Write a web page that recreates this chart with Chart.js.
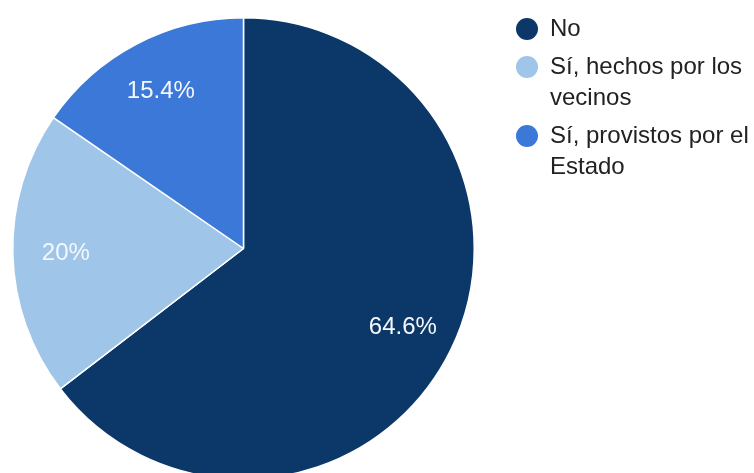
<!DOCTYPE html>
<html>
<head>
<meta charset="utf-8">
<script src="https://cdn.jsdelivr.net/npm/chart.js@4.4.1/dist/chart.umd.min.js"></script>
<style>
  html, body { margin: 0; padding: 0; background: #ffffff; overflow: hidden; }
  #wrap { position: relative; width: 754px; height: 473px; overflow: hidden; }
  #box { position: absolute; left: 0; top: 0; width: 754px; height: 496px; }
</style>
</head>
<body>
<div id="wrap"><div id="box"><canvas id="c"></canvas></div></div>
<script>
const categories = ["No", "Sí, hechos por los vecinos", "Sí, provistos por el Estado"];
const values = [64.6, 20, 15.4];
const valueLabels = ["64.6%", "20%", "15.4%"];
const colors = ["#0b3868", "#9fc5e8", "#3c78d8"];

const FONT = "Arial, 'Liberation Sans', Helvetica, sans-serif";

const sliceLabels = {
  id: 'sliceLabels',
  afterDatasetsDraw(chart) {
    const ctx = chart.ctx;
    const meta = chart.getDatasetMeta(0);
    ctx.save();
    ctx.font = "24px " + FONT;
    ctx.fillStyle = "#f4f8fd";
    ctx.textAlign = "center";
    ctx.textBaseline = "middle";
    meta.data.forEach((arc, i) => {
      const p = arc.getProps(['x', 'y', 'startAngle', 'endAngle', 'outerRadius'], true);
      const mid = (p.startAngle + p.endAngle) / 2;
      const r = p.outerRadius * 0.77;
      ctx.fillText(valueLabels[i], p.x + Math.cos(mid) * r, p.y + Math.sin(mid) * r);
    });
    ctx.restore();
  }
};

const sideLegend = {
  id: 'sideLegend',
  afterDraw(chart) {
    const ctx = chart.ctx;
    const labels = chart.data.labels;
    const bg = chart.data.datasets[0].backgroundColor;
    const textX = 550, dotX = 527, maxW = 204, lineH = 31, gap = 38;
    let y = 28;
    ctx.save();
    ctx.font = "24px " + FONT;
    ctx.textBaseline = "middle";
    ctx.textAlign = "left";
    labels.forEach((lab, i) => {
      const words = lab.split(" ");
      const lines = [];
      let cur = "";
      words.forEach(w => {
        const t = cur ? cur + " " + w : w;
        if (ctx.measureText(t).width > maxW && cur) { lines.push(cur); cur = w; }
        else cur = t;
      });
      if (cur) lines.push(cur);
      ctx.fillStyle = bg[i];
      ctx.beginPath();
      ctx.arc(dotX, y + 1, 11, 0, Math.PI * 2);
      ctx.fill();
      ctx.fillStyle = "#222222";
      lines.forEach((ln, k) => {
        ctx.fillText(ln, textX, y + 1 + k * lineH);
      });
      y += (lines.length - 1) * lineH + gap;
    });
    ctx.restore();
  }
};

new Chart(document.getElementById('c'), {
  type: 'pie',
  data: {
    labels: categories,
    datasets: [{
      data: values,
      backgroundColor: colors,
      borderColor: "#ffffff",
      borderWidth: 1.5
    }]
  },
  options: {
    responsive: true,
    maintainAspectRatio: false,
    animation: false,
    layout: { padding: { left: 12, top: 17, right: 279, bottom: 16 } },
    plugins: {
      legend: { display: false },
      tooltip: { enabled: false }
    }
  },
  plugins: [sliceLabels, sideLegend]
});
</script>
</body>
</html>
